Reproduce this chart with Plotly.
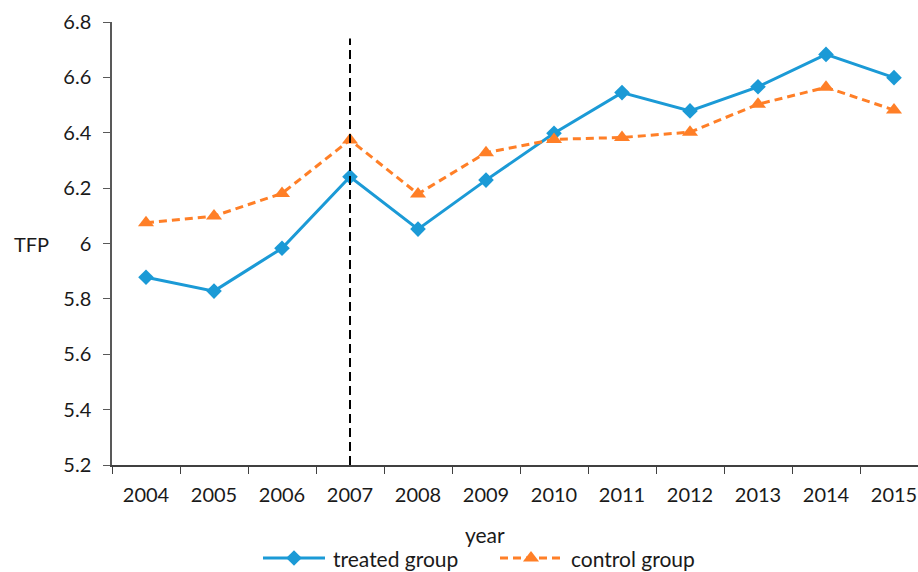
import plotly.graph_objects as go

# TFP by year for the two groups
years = ["2004", "2005", "2006", "2007", "2008", "2009",
         "2010", "2011", "2012", "2013", "2014", "2015"]
treated = [5.878, 5.828, 5.983, 6.241, 6.052, 6.229,
           6.398, 6.545, 6.479, 6.566, 6.683, 6.599]
control = [6.075, 6.099, 6.181, 6.374, 6.179, 6.328,
           6.376, 6.383, 6.402, 6.503, 6.564, 6.482]
y_ticks = [5.2, 5.4, 5.6, 5.8, 6.0, 6.2, 6.4, 6.6, 6.8]
y_tick_text = ["5.2", "5.4", "5.6", "5.8", "6", "6.2", "6.4", "6.6", "6.8"]
policy_year = "2007"
policy_line_top = 6.74
series_names = ["treated group", "control group"]

FONT = "Lato"
TXT = "#1a1a1a"
BLUE = "#1B9AD6"
ORANGE = "#FF7F27"
W, H = 918, 572
ML, MT = 112, 22
PLOT_H = H - MT
PLOT_W = W - ML


def ypaper(px):
    """Convert a pixel row of the page into the plot-area paper fraction."""
    return (H - px) / PLOT_H


fig = go.Figure()
fig.add_trace(go.Scatter(
    x=years, y=treated, name=series_names[0], mode="lines+markers",
    line=dict(color=BLUE, width=3),
    marker=dict(symbol="diamond", size=12, color=BLUE),
    showlegend=False,
))
fig.add_trace(go.Scatter(
    x=years, y=control, name=series_names[1], mode="lines+markers",
    line=dict(color=ORANGE, width=3, dash="8px,5px"),
    marker=dict(symbol="triangle-up", size=14, color=ORANGE),
    showlegend=False,
))

# vertical marker at the policy year
px_idx = years.index(policy_year)
fig.add_shape(type="line", xref="x", yref="y",
              x0=px_idx, x1=px_idx, y0=y_ticks[0], y1=policy_line_top,
              line=dict(color="black", width=2, dash="9px,5px"), layer="above")

# legend row drawn on a hidden pixel-scaled axis pair
legend_items = [
    dict(x0=263, x1=325, text_x=331, color=BLUE, dash="solid", symbol="diamond", size=12),
    dict(x0=500, x1=562, text_x=569, color=ORANGE, dash="8px,5px", symbol="triangle-up", size=14),
]
for name, it in zip(series_names, legend_items):
    fig.add_trace(go.Scatter(
        x=[it["x0"] - ML, it["x1"] - ML], y=[0.5, 0.5], mode="lines",
        line=dict(color=it["color"], width=3, dash=it["dash"]),
        xaxis="x2", yaxis="y2", showlegend=False, hoverinfo="skip",
    ))
    fig.add_trace(go.Scatter(
        x=[(it["x0"] + it["x1"]) / 2 - ML], y=[0.5], mode="markers",
        marker=dict(symbol=it["symbol"], size=it["size"], color=it["color"]),
        xaxis="x2", yaxis="y2", showlegend=False, hoverinfo="skip",
    ))
    fig.add_annotation(text=name, xref="x2", yref="y2", x=it["text_x"] - ML, y=0.5,
                       xanchor="left", yanchor="middle", showarrow=False,
                       font=dict(family=FONT, size=21, color=TXT))

fig.add_annotation(text="TFP", xref="paper", yref="y", x=(12 - ML) / PLOT_W, y=6.0,
                   xanchor="left", yanchor="middle", showarrow=False,
                   font=dict(family=FONT, size=20, color=TXT))
fig.add_annotation(text="year", xref="paper", yref="paper", x=(485 - ML) / PLOT_W,
                   y=ypaper(534), xanchor="center", yanchor="middle", showarrow=False,
                   font=dict(family=FONT, size=21, color=TXT))

leg_mid = ypaper(558)
fig.update_layout(
    width=W, height=H,
    margin=dict(l=ML, r=0, t=MT, b=0, autoexpand=False),
    paper_bgcolor="white", plot_bgcolor="white",
    font=dict(family=FONT, size=20, color=TXT),
    showlegend=False,
    xaxis=dict(type="category", range=[-0.5, 11.353], tickson="boundaries",
               anchor="y", domain=[0, 1], automargin=False,
               showline=True, linecolor="#404040", linewidth=1.5,
               ticks="outside", ticklen=7, tickcolor="#404040",
               showgrid=False, zeroline=False, ticklabelstandoff=11,
               tickfont=dict(family=FONT, size=20, color=TXT)),
    yaxis=dict(range=[5.2, 6.8], tickvals=y_ticks, ticktext=y_tick_text,
               domain=[ypaper(465), 1.0], anchor="x", automargin=False,
               showline=True, linecolor="#595959", linewidth=1.5,
               ticks="outside", ticklen=7, tickcolor="#595959",
               showgrid=False, zeroline=False, ticklabelstandoff=8,
               tickfont=dict(family=FONT, size=20, color=TXT)),
    xaxis2=dict(domain=[0, 1], range=[0, PLOT_W], anchor="y2", visible=False,
                fixedrange=True, automargin=False),
    yaxis2=dict(domain=[leg_mid - 0.025, leg_mid + 0.025], range=[0, 1], anchor="x2",
                visible=False, fixedrange=True, automargin=False),
)

fig.write_html("out.html")
